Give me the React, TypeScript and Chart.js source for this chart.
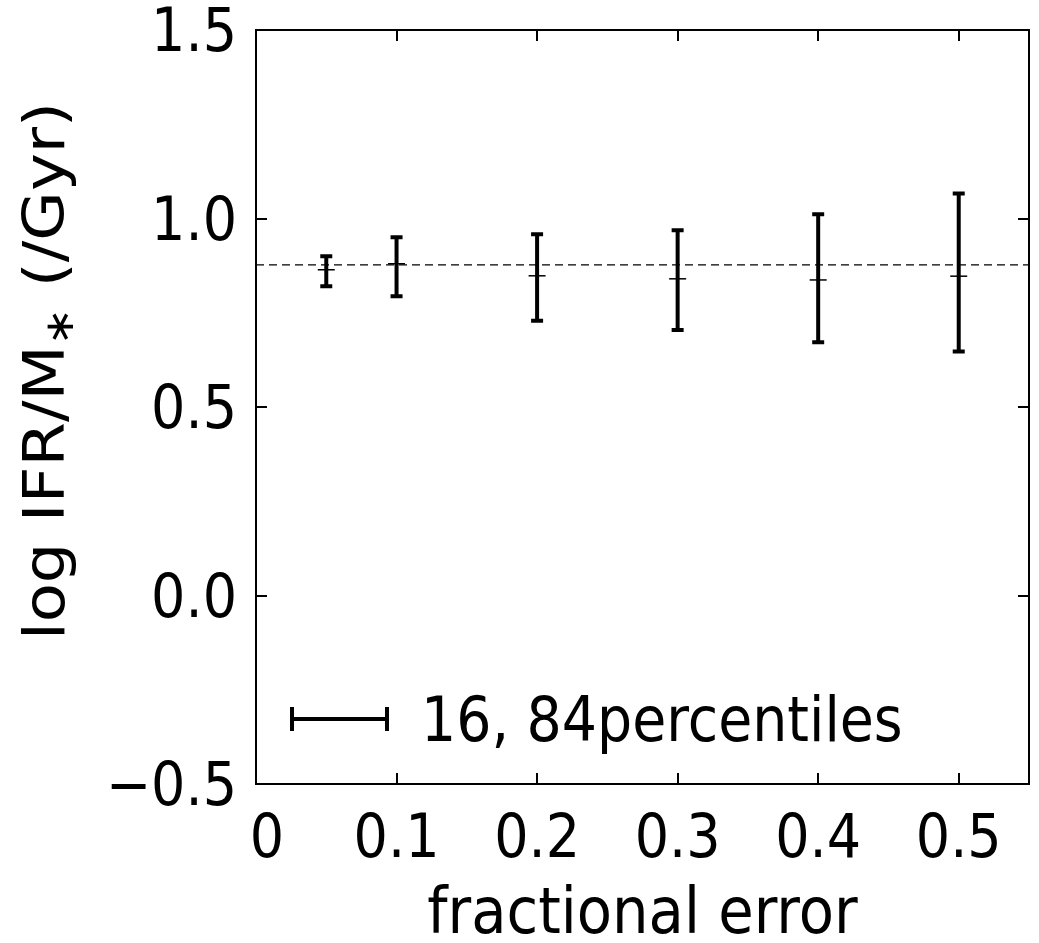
import React, { useEffect, useRef } from "react";
import { Chart, registerables } from "chart.js";

Chart.register(...registerables);

// ---- data ----
const fracErr = [0.05, 0.1, 0.2, 0.3, 0.4, 0.5];
const medianVal = [0.864, 0.88, 0.848, 0.84, 0.837, 0.847];
const p16 = [0.82, 0.794, 0.729, 0.704, 0.672, 0.647];
const p84 = [0.9, 0.95, 0.958, 0.969, 1.011, 1.066];
const trueValue = 0.877;

const xTicks = [0, 0.1, 0.2, 0.3, 0.4, 0.5];
const xTickLabels = ["0", "0.1", "0.2", "0.3", "0.4", "0.5"];
const yTicks = [-0.5, 0, 0.5, 1.0, 1.5];
const yTickLabels = ["\u22120.5", "0.0", "0.5", "1.0", "1.5"];
const xTitle = "fractional error";
const yTitleMain = "log IFR/M";
const yTitleSub = "\u2217";
const yTitleEnd = " (/Gyr)";
const legendLabel = "16, 84percentiles";

const FONT = "'DejaVu Sans', 'Bitstream Vera Sans', sans-serif";
const SQUEEZE = 0.9;

function drawErrorBar(ctx: CanvasRenderingContext2D, x: number, y1: number, y2: number) {
  ctx.beginPath();
  ctx.moveTo(x, y1);
  ctx.lineTo(x, y2);
  ctx.stroke();
  ctx.beginPath();
  ctx.moveTo(x - 6, y1);
  ctx.lineTo(x + 6, y1);
  ctx.moveTo(x - 6, y2);
  ctx.lineTo(x + 6, y2);
  ctx.stroke();
}

const decorPlugin = {
  id: "decor",
  beforeDatasetsDraw(chart: any) {
    const ctx: CanvasRenderingContext2D = chart.ctx;
    const xs = chart.scales.x;
    const ys = chart.scales.y;
    ctx.save();
    ctx.strokeStyle = "#000";
    ctx.lineWidth = 4;
    ctx.lineCap = "butt";
    for (let i = 0; i < fracErr.length; i++) {
      const px = xs.getPixelForValue(fracErr[i]);
      drawErrorBar(ctx, px, ys.getPixelForValue(p84[i]), ys.getPixelForValue(p16[i]));
    }
    ctx.restore();
  },
  afterDraw(chart: any) {
    const ctx: CanvasRenderingContext2D = chart.ctx;
    const { left, right, top, bottom } = chart.chartArea;
    const xs = chart.scales.x;
    const ys = chart.scales.y;
    ctx.save();
    ctx.strokeStyle = "#000";
    ctx.fillStyle = "#000";
    // frame
    ctx.lineWidth = 2;
    ctx.strokeRect(left, top, right - left, bottom - top);
    // inward ticks
    const tl = 11;
    ctx.beginPath();
    xTicks.forEach((v) => {
      const px = Math.round(xs.getPixelForValue(v));
      ctx.moveTo(px, bottom);
      ctx.lineTo(px, bottom - tl);
      ctx.moveTo(px, top);
      ctx.lineTo(px, top + tl);
    });
    yTicks.forEach((v) => {
      const py = Math.round(ys.getPixelForValue(v));
      ctx.moveTo(left, py);
      ctx.lineTo(left + tl, py);
      ctx.moveTo(right, py);
      ctx.lineTo(right - tl, py);
    });
    ctx.stroke();

    const squeezedText = (t: string, x: number, y: number, align: "left" | "center" | "right", size: number) => {
      ctx.save();
      ctx.font = `${size}px ${FONT}`;
      ctx.textBaseline = "alphabetic";
      ctx.textAlign = align;
      ctx.translate(x, y);
      ctx.scale(SQUEEZE, 1);
      ctx.fillText(t, 0, 0);
      ctx.restore();
    };

    // x tick labels
    xTicks.forEach((v, i) => {
      let px = xs.getPixelForValue(v);
      if (i === 0) px += 11;
      squeezedText(xTickLabels[i], px, 857, "center", 60);
    });
    // y tick labels
    yTicks.forEach((v, i) => {
      const py = ys.getPixelForValue(v);
      squeezedText(yTickLabels[i], left - 19, py + 21, "right", 60);
    });
    // x title
    squeezedText(xTitle, (left + right) / 2, 933, "center", 64);

    // y title (rotated)
    ctx.save();
    ctx.translate(64, (top + bottom) / 2 - 36);
    ctx.rotate(-Math.PI / 2);
    ctx.scale(1, SQUEEZE);
    ctx.textBaseline = "alphabetic";
    ctx.textAlign = "left";
    const big = `64px ${FONT}`;
    const small = `45px ${FONT}`;
    ctx.font = big;
    const w1 = ctx.measureText(yTitleMain).width;
    const w3 = ctx.measureText(yTitleEnd).width;
    ctx.font = small;
    const w2 = ctx.measureText(yTitleSub).width;
    let x0 = -(w1 + w2 + w3) / 2;
    ctx.font = big;
    ctx.fillText(yTitleMain, x0, 0);
    x0 += w1;
    ctx.font = small;
    ctx.fillText(yTitleSub, x0, 10);
    x0 += w2;
    ctx.font = big;
    ctx.fillText(yTitleEnd, x0, 0);
    ctx.restore();

    // legend
    const lx1 = left + 36;
    const lx2 = left + 131;
    const ly = bottom - 65;
    ctx.lineWidth = 4;
    ctx.beginPath();
    ctx.moveTo(lx1, ly);
    ctx.lineTo(lx2, ly);
    ctx.moveTo(lx1, ly - 12);
    ctx.lineTo(lx1, ly + 12);
    ctx.moveTo(lx2, ly - 12);
    ctx.lineTo(lx2, ly + 12);
    ctx.stroke();
    squeezedText(legendLabel, left + 165, bottom - 43, "left", 61.5);
    ctx.restore();
  },
};

export default function App() {
  const ref = useRef<HTMLCanvasElement | null>(null);
  useEffect(() => {
    if (!ref.current) return;
    const chart = new Chart(ref.current, {
      type: "scatter",
      data: {
        datasets: [
          {
            type: "line",
            label: "true",
            data: [
              { x: 0, y: trueValue },
              { x: 0.55, y: trueValue },
            ],
            borderColor: "#000",
            borderWidth: 1.3,
            borderDash: [8, 5],
            pointRadius: 0,
            fill: false,
          } as any,
          {
            label: "median",
            data: fracErr.map((x, i) => ({ x, y: medianVal[i] })),
            pointStyle: "line",
            pointRadius: 8.5,
            borderColor: "#000",
            backgroundColor: "#000",
            borderWidth: 1.5,
          } as any,
        ],
      },
      options: {
        animation: false,
        responsive: false,
        devicePixelRatio: 1,
        layout: { padding: { left: 0, right: 10, top: 30, bottom: 0 } },
        plugins: { legend: { display: false }, tooltip: { enabled: false } },
        scales: {
          x: {
            type: "linear",
            min: 0,
            max: 0.55,
            grid: { display: false },
            border: { display: false },
            ticks: { display: false },
            afterFit: (s: any) => {
              s.height = 159;
            },
          },
          y: {
            type: "linear",
            min: -0.5,
            max: 1.5,
            grid: { display: false },
            border: { display: false },
            ticks: { display: false },
            afterFit: (s: any) => {
              s.width = 256;
            },
          },
        },
      } as any,
      plugins: [decorPlugin],
    });
    return () => chart.destroy();
  }, []);
  return (
    <div style={{ position: "fixed", left: 0, top: 0, width: 1039, height: 943, background: "#fff" }}>
      <canvas ref={ref} width={1039} height={943} style={{ width: 1039, height: 943, display: "block" }} />
    </div>
  );
}
